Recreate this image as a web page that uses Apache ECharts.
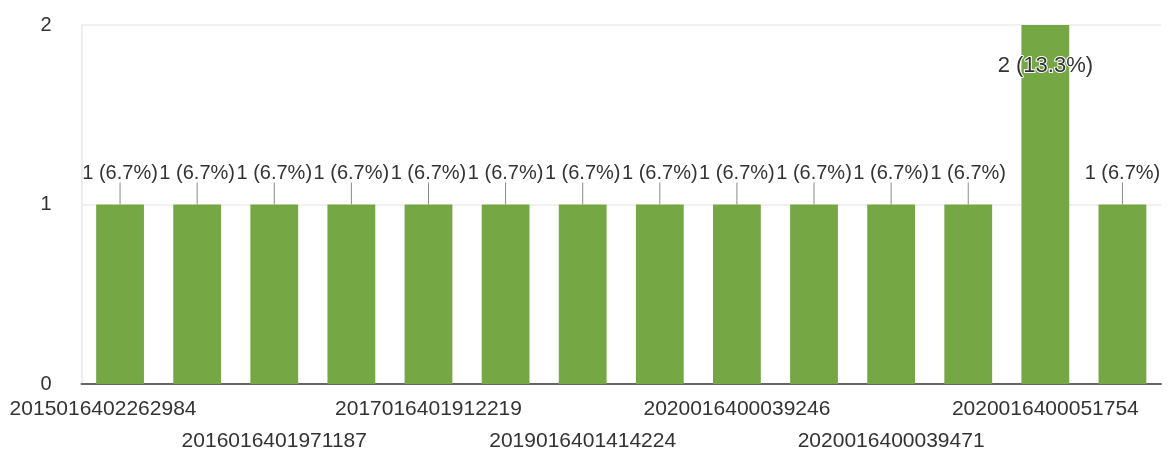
<!DOCTYPE html>
<html>
<head>
<meta charset="utf-8">
<script src="https://cdn.jsdelivr.net/npm/echarts@6/dist/echarts.min.js"></script>
<style>
  html, body { margin: 0; padding: 0; background: #fff; }
  #chart { width: 1171px; height: 456px; }
</style>
</head>
<body>
<div id="chart"></div>
<script>
// only every other label is readable in the picture, the rest are hidden by the axis
const categories = [
  '2015016402262984', '2015016402263015', '2016016401971187', '2016016401971243',
  '2017016401912219', '2018016401523870', '2019016401414224', '2019016401414301',
  '2020016400039246', '2020016400039302', '2020016400039471', '2020016400051698',
  '2020016400051754', '2020016400051812',
]
const values = [1, 1, 1, 1, 1, 1, 1, 1, 1, 1, 1, 1, 2, 1]
const yTicks = [0, 1, 2]

const total = values.reduce((a, b) => a + b, 0)
const fmtPct = v => v + ' (' + (v / total * 100).toFixed(1) + '%)'
const textColor = '#333'
const font = 'Liberation Sans, Arial, sans-serif'
const maxVal = Math.max(...values)

const barData = values.map(v => {
  if (v === maxVal) {
    // tall bar: label sits inside, below the top
    return {
      value: v,
      label: {
        position: 'insideTop',
        distance: 30,
        formatter: fmtPct(v),
        fontFamily: font,
        fontSize: 22,
        color: textColor,
        textBorderColor: '#fff',
        textBorderWidth: 2,
      },
    }
  }
  return { value: v }
})

const xLabel = {
  margin: 12,
  fontFamily: font,
  fontSize: 21,
  lineHeight: 26,
  color: textColor,
}

const chart = echarts.init(document.getElementById('chart'), null, { renderer: 'canvas' })

chart.setOption({
  backgroundColor: '#fff',
  animation: false,
  grid: { left: 81.5, right: 10, top: 25, bottom: 72, containLabel: false },
  xAxis: [
    {
      // first row of staggered labels
      type: 'category',
      data: categories,
      axisLine: { lineStyle: { color: '#666', width: 2 } },
      axisTick: { show: false },
      axisLabel: {
        ...xLabel,
        interval: index => index % 4 === 0,
        formatter(value, index) {
          return index === 0 ? '{first|' + value + '}' : value
        },
        rich: {
          first: { ...xLabel, padding: [0, 34, 0, 0] },
        },
      },
    },
    {
      // second row
      type: 'category',
      data: categories,
      position: 'bottom',
      offset: 32,
      axisLine: { show: false },
      axisTick: { show: false },
      splitLine: { show: false },
      axisLabel: {
        ...xLabel,
        interval: index => index % 4 === 2,
      },
    },
  ],
  yAxis: {
    type: 'value',
    min: yTicks[0],
    max: yTicks[yTicks.length - 1],
    interval: 1,
    axisLine: { show: true, lineStyle: { color: '#eeeeee', width: 2 } },
    axisTick: { show: false },
    splitLine: { lineStyle: { color: '#f1f1f1', width: 2 } },
    axisLabel: {
      margin: 30,
      fontFamily: font,
      fontSize: 20,
      color: textColor,
    },
  },
  series: [
    {
      type: 'bar',
      xAxisIndex: 0,
      data: barData,
      barWidth: '62%',
      itemStyle: { color: '#76a745' },
      label: {
        show: true,
        position: 'top',
        distance: 0,
        formatter: p => '{t|' + fmtPct(p.value) + '}\n{l|}',
        rich: {
          t: {
            fontFamily: font,
            fontSize: 20,
            lineHeight: 18,
            color: textColor,
          },
          l: {
            width: 1,
            height: 22,
            backgroundColor: '#8a8a8a',
          },
        },
      },
    },
  ],
})
</script>
</body>
</html>
